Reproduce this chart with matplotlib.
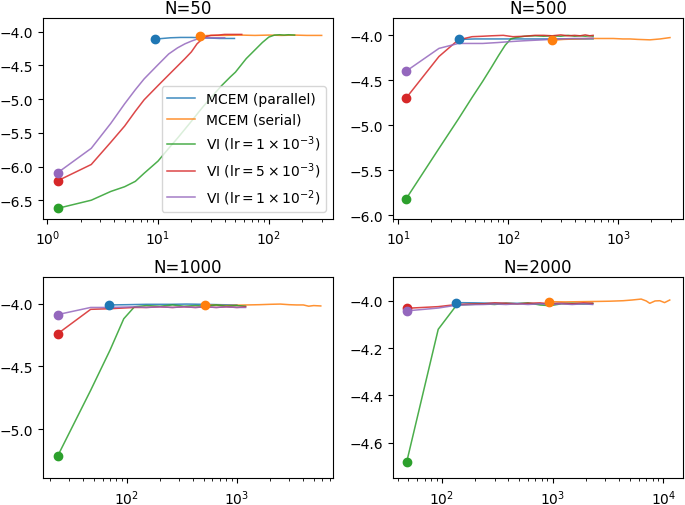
import matplotlib
matplotlib.use("Agg")
import matplotlib.pyplot as plt

labels = ["MCEM (parallel)", "MCEM (serial)",
          r"VI (lr$=1\times10^{-3}$)", r"VI (lr$=5\times10^{-3}$)", r"VI (lr$=1\times10^{-2}$)"]
colors = ["#1f77b4", "#ff7f0e", "#2ca02c", "#d62728", "#9467bd"]
titles = ["N=50", "N=500", "N=1000", "N=2000"]

# ---- N=50 ----
n50_par_x = [9.4, 11, 13, 16, 20, 25, 30, 36, 42, 49]
n50_par_y = [-4.11, -4.10, -4.09, -4.085, -4.085, -4.09, -4.095, -4.10, -4.10, -4.10]
n50_ser_x = [24, 30, 40, 55, 75, 100, 130, 170, 220, 300]
n50_ser_y = [-4.06, -4.055, -4.055, -4.05, -4.055, -4.05, -4.055, -4.05, -4.055, -4.055]
n50_g_x = [1.25, 2.5, 3.75, 5.0, 6.25, 7.5, 10, 12.5, 15, 20, 25, 30, 37.5, 45, 50, 62.5, 75, 87.5, 100, 112.5, 125, 137.5, 150, 171]
n50_g_y = [-6.62, -6.50, -6.37, -6.30, -6.22, -6.10, -5.92, -5.73, -5.58, -5.33, -5.13, -4.98, -4.80, -4.67, -4.60,
           -4.40, -4.27, -4.16, -4.08, -4.05, -4.045, -4.05, -4.045, -4.05]
n50_r_x = [1.25, 2.5, 3.75, 5, 6.25, 7.5, 10, 12.5, 15, 17.5, 20, 22.5, 25, 27.5, 30, 35, 40, 47.5, 57]
n50_r_y = [-6.21, -5.97, -5.64, -5.40, -5.18, -5.01, -4.80, -4.64, -4.51, -4.40, -4.30, -4.18, -4.11, -4.07,
           -4.055, -4.05, -4.04, -4.04, -4.04]
n50_p_x = [1.25, 2.5, 3.75, 5, 6.25, 7.5, 10, 12.5, 15, 17.5, 20, 22.5, 25, 30, 35, 40]
n50_p_y = [-6.09, -5.73, -5.36, -5.07, -4.86, -4.70, -4.49, -4.33, -4.24, -4.18, -4.14, -4.11, -4.095, -4.09, -4.09, -4.09]

# ---- N=500 ----
n500_par_x = [35.9, 50, 80, 120, 200, 300, 450, 590]
n500_par_y = [-4.045, -4.04, -4.04, -4.04, -4.04, -4.04, -4.04, -4.04]
n500_ser_x = [248, 320, 420, 550, 700, 900, 1100, 1276, 1500, 1940, 2400, 2950]
n500_ser_y = [-4.055, -4.045, -4.04, -4.035, -4.035, -4.035, -4.04, -4.04, -4.045, -4.05, -4.04, -4.025]
n500_g_x = [11.7, 23.4, 35.1, 46.8, 58.5, 70.2, 81.9, 93.6, 105.3, 117, 140, 175, 210, 250, 300, 350, 400, 450, 500, 550, 590]
n500_g_y = [-5.82, -5.256, -4.93, -4.69, -4.51, -4.355, -4.22, -4.11, -4.04, -4.025, -4.01, -4.005, -4.01, -4.005,
            -4.01, -4.0, -4.01, -4.005, -4.01, -4.005, -4.01]
n500_r_x = [11.7, 23.4, 35.1, 46.8, 58.5, 70.2, 90, 110, 140, 175, 210, 250, 300, 350, 400, 450, 500, 550, 590]
n500_r_y = [-4.70, -4.235, -4.05, -4.015, -4.01, -4.005, -4.00, -4.015, -4.01, -4.00, -4.00, -4.005, -3.995,
            -4.005, -4.0, -4.005, -3.995, -4.005, -4.0]
n500_p_x = [11.7, 23.4, 35.1, 46.8, 58.5, 80, 103, 140, 206, 300, 400, 500, 590]
n500_p_y = [-4.40, -4.145, -4.09, -4.09, -4.09, -4.08, -4.07, -4.06, -4.05, -4.04, -4.035, -4.035, -4.03]

# ---- N=1000 ----
n1000_par_x = [68.6, 100, 150, 250, 350, 500, 700, 1000]
n1000_par_y = [-4.01, -4.008, -4.005, -4.005, -4.003, -4.005, -4.008, -4.01]
n1000_ser_x = [515, 650, 800, 1000, 1230, 1600, 2000, 2480, 3000, 3500, 4030, 4500, 5000, 5800]
n1000_ser_y = [-4.01, -4.012, -4.015, -4.012, -4.01, -4.008, -4.005, -4.003, -4.008, -4.01, -4.01, -4.02, -4.015, -4.018]
n1000_g_x = [23.4, 46.8, 70.2, 93.6, 117, 150, 200, 260, 330, 420, 520, 650, 800, 1000, 1200]
n1000_g_y = [-5.215, -4.69, -4.37, -4.12, -4.025, -4.015, -4.02, -4.01, -4.02, -4.015, -4.02, -4.01, -4.02, -4.015, -4.02]
n1000_r_x = [23.4, 46.8, 70.2, 117, 150, 200, 260, 330, 420, 520, 650, 800, 1000, 1200]
n1000_r_y = [-4.24, -4.045, -4.04, -4.03, -4.03, -4.025, -4.03, -4.025, -4.03, -4.025, -4.03, -4.025, -4.03, -4.025]
n1000_p_x = [23.4, 46.8, 70.2, 117, 150, 200, 260, 330, 420, 520, 650, 800, 1000, 1200]
n1000_p_y = [-4.087, -4.03, -4.03, -4.025, -4.03, -4.025, -4.03, -4.025, -4.03, -4.025, -4.03, -4.025, -4.03, -4.03]

# ---- N=2000 ----
n2000_par_x = [134.6, 200, 300, 500, 800, 1200, 1800, 2300]
n2000_par_y = [-4.007, -4.008, -4.01, -4.01, -4.012, -4.01, -4.012, -4.012]
n2000_ser_x = [933, 1300, 1800, 2500, 3300, 4330, 5200, 6300, 7000, 7530, 8400, 9280, 10240, 11400]
n2000_ser_y = [-4.003, -4.004, -4.003, -4.002, -4.001, -3.999, -3.996, -3.992, -4.0, -4.01, -4.0, -3.999, -4.007, -3.996]
n2000_g_x = [48.4, 93, 136.5, 180, 240, 300, 380, 480, 600, 770, 950, 1200, 1500, 1900, 2300]
n2000_g_y = [-4.68, -4.12, -4.017, -4.015, -4.012, -4.015, -4.01, -4.012, -4.008, -4.017, -4.02, -4.012, -4.01, -4.012, -4.01]
n2000_r_x = [48.4, 93, 136.5, 180, 240, 300, 380, 480, 600, 770, 950, 1200, 1500, 1900, 2300]
n2000_r_y = [-4.031, -4.024, -4.015, -4.013, -4.012, -4.008, -4.01, -4.012, -4.01, -4.008, -4.012, -4.01, -4.012, -4.008, -4.01]
n2000_p_x = [48.4, 93, 136.5, 180, 240, 300, 380, 480, 600, 770, 950, 1200, 1500, 1900, 2300]
n2000_p_y = [-4.042, -4.03, -4.018, -4.016, -4.015, -4.013, -4.015, -4.012, -4.015, -4.012, -4.015, -4.012, -4.015, -4.012, -4.015]

panels = [
    [(n50_par_x, n50_par_y), (n50_ser_x, n50_ser_y), (n50_g_x, n50_g_y), (n50_r_x, n50_r_y), (n50_p_x, n50_p_y)],
    [(n500_par_x, n500_par_y), (n500_ser_x, n500_ser_y), (n500_g_x, n500_g_y), (n500_r_x, n500_r_y), (n500_p_x, n500_p_y)],
    [(n1000_par_x, n1000_par_y), (n1000_ser_x, n1000_ser_y), (n1000_g_x, n1000_g_y), (n1000_r_x, n1000_r_y), (n1000_p_x, n1000_p_y)],
    [(n2000_par_x, n2000_par_y), (n2000_ser_x, n2000_ser_y), (n2000_g_x, n2000_g_y), (n2000_r_x, n2000_r_y), (n2000_p_x, n2000_p_y)],
]
xlims = [(0.92, 380), (8.95, 3870), (17.3, 7500), (36.4, 15000)]
ylims = [(-6.78, -3.80), (-6.04, -3.81), (-5.39, -3.79), (-4.75, -3.90)]
yticks = [[-6.5, -6.0, -5.5, -5.0, -4.5, -4.0],
          [-6.0, -5.5, -5.0, -4.5, -4.0],
          [-5.0, -4.5, -4.0],
          [-4.6, -4.4, -4.2, -4.0]]

fig, axes = plt.subplots(2, 2, figsize=(6.85, 5.06), dpi=100)
fig.subplots_adjust(left=0.063, right=0.997, top=0.962, bottom=0.053, wspace=0.207, hspace=0.29)

for ax, series, title, xl, yl, yt in zip(axes.flat, panels, titles, xlims, ylims, yticks):
    for (x, y), c, lab in zip(series, colors, labels):
        ax.plot(x, y, color=c, lw=1.1, alpha=0.85, label=lab)
        ax.scatter([x[0]], [y[0]], color=c, s=36, zorder=3)
    ax.set_xscale("log")
    ax.set_xlim(*xl)
    ax.set_ylim(*yl)
    ax.set_yticks(yt)
    ax.set_yticklabels([f"{v:.1f}".replace("-", "\u2212") for v in yt])
    ax.set_title(title, fontsize=12, pad=4)

axes[0, 0].legend(loc="lower right", fontsize=10)

fig.savefig("out.png", dpi=100)
